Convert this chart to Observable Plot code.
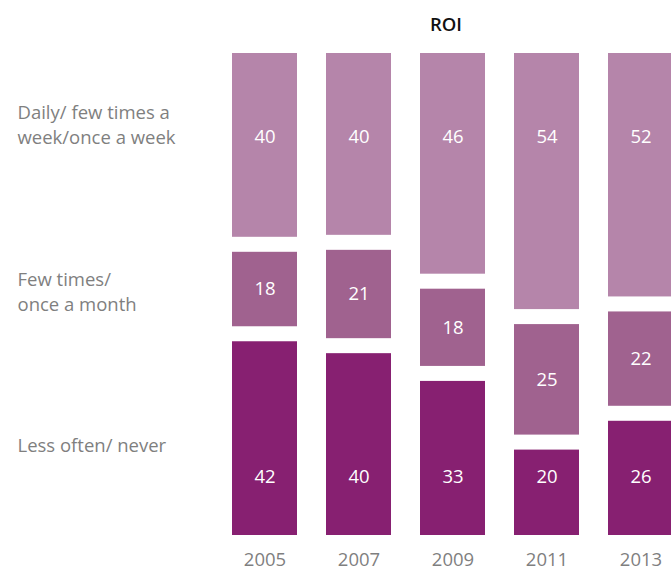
<!DOCTYPE html>
<html>
<head>
<meta charset="utf-8">
<script src="https://cdn.jsdelivr.net/npm/d3@7"></script>
<script src="https://cdn.jsdelivr.net/npm/@observablehq/plot@0.6"></script>
<style>
  html, body { margin: 0; padding: 0; background: #fff; overflow: hidden; }
</style>
</head>
<body>
<div id="chart"></div>
<script>
const title = "ROI";
const years = ["2005", "2007", "2009", "2011", "2013"];
// stacking order: bottom to top
const categories = ["Less often/ never", "Few times/ once a month", "Daily/ few times a week/once a week"];
const categoryLabels = ["Less often/ never", "Few times/\nonce a month", "Daily/ few times a\nweek/once a week"];
const lessOften = [42, 40, 33, 20, 26];
const fewTimes = [18, 21, 18, 25, 22];
const daily = [40, 40, 46, 54, 52];
const colors = ["#872071", "#a0628f", "#b585aa"];

const series = [lessOften, fewTimes, daily];
const rows = [];
years.forEach((year, i) => {
  const total = d3.sum(series, s => s[i]);
  let base = 0;
  series.forEach((vals, c) => {
    rows.push({year, cat: categories[c], label: categoryLabels[c], value: vals[i],
               y1: base / total, y2: (base + vals[i]) / total});
    base += vals[i];
  });
});

const W = 671, H = 572;
const font = "'Open Sans', 'DejaVu Sans', sans-serif";
const fs = 18.5;

const chart = Plot.plot({
  width: W,
  height: H,
  marginLeft: 220,
  marginRight: 0,
  marginTop: 45.5,
  marginBottom: 29.5,
  style: {fontFamily: font, background: "#fff", overflow: "hidden"},
  x: {type: "band", domain: years, range: [220, 684], paddingInner: 0.31, paddingOuter: 0.1167, label: null},
  y: {domain: [0, 1], axis: null},
  color: {domain: categories, range: colors},
  marks: [
    Plot.barY(rows, {x: "year", y1: "y1", y2: "y2", fill: "cat", insetTop: 7.5, insetBottom: 7.5}),
    // value labels
    Plot.text(rows, {filter: d => d.cat === categories[2], x: "year", y: "y2", text: "value", dy: 91, fill: "white", fontSize: fs, lineAnchor: "middle"}),
    Plot.text(rows, {filter: d => d.cat === categories[1], x: "year", y: d => (d.y1 + d.y2) / 2, text: "value", dy: 0, fill: "white", fontSize: fs, lineAnchor: "middle"}),
    Plot.text(rows, {filter: d => d.cat === categories[0], x: "year", y: "y1", text: "value", dy: -65.5, fill: "white", fontSize: fs, lineAnchor: "middle"}),
    // category labels at left
    Plot.text(rows, {filter: d => d.year === years[0] && d.cat === categories[2], y: d => (d.y1 + d.y2) / 2, text: "label", frameAnchor: "left", textAnchor: "start", dx: -203, dy: -22, fill: "#7f7f7f", fontSize: fs, lineHeight: 1.35, lineAnchor: "middle"}),
    Plot.text(rows, {filter: d => d.year === years[0] && d.cat === categories[1], y: d => (d.y1 + d.y2) / 2, text: "label", frameAnchor: "left", textAnchor: "start", dx: -203, dy: 1, fill: "#7f7f7f", fontSize: fs, lineHeight: 1.35, lineAnchor: "middle"}),
    Plot.text(rows, {filter: d => d.year === years[0] && d.cat === categories[0], y: d => (d.y1 + d.y2) / 2, text: "label", frameAnchor: "left", textAnchor: "start", dx: -203, dy: 5, fill: "#7f7f7f", fontSize: fs, lineHeight: 1.35, lineAnchor: "middle"}),
    // year axis
    Plot.axisX({tickSize: 0, tickPadding: 9.5, fontSize: fs, color: "#7f7f7f", label: null}),
    // title
    Plot.text([title], {frameAnchor: "top", text: d => d, dy: -20.5, fontSize: fs, fontWeight: 600, fill: "#111", lineAnchor: "middle"})
  ]
});
document.getElementById("chart").appendChild(chart);
</script>
</body>
</html>
